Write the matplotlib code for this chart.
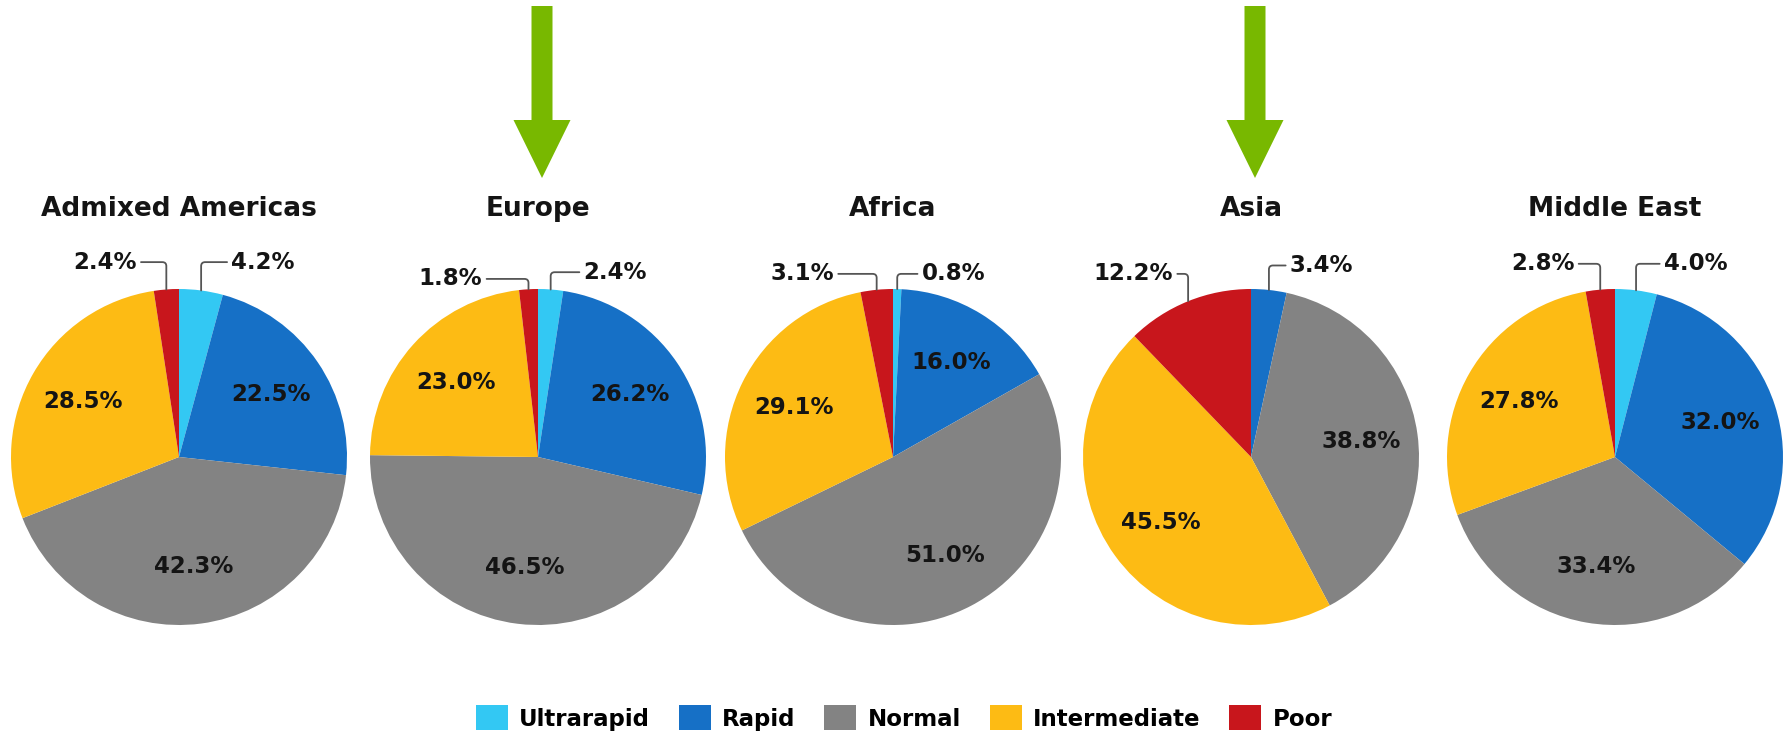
import matplotlib
matplotlib.use("Agg")
import numpy as np
import matplotlib.pyplot as plt
from matplotlib.patches import Patch, FancyArrow
from matplotlib.font_manager import FontProperties

# ---- data -------------------------------------------------------------
regions = ["Admixed Americas", "Europe", "Africa", "Asia", "Middle East"]
phenotypes = ["Ultrarapid", "Rapid", "Normal", "Intermediate", "Poor"]

admixed_americas = [4.2, 22.5, 42.3, 28.5, 2.4]
europe = [2.4, 26.2, 46.5, 23.0, 1.8]
africa = [0.8, 16.0, 51.0, 29.1, 3.1]
asia = [0.0, 3.4, 38.8, 45.5, 12.2]
middle_east = [4.0, 32.0, 33.4, 27.8, 2.8]

highlighted = ["Europe", "Asia"]

# ---- style ------------------------------------------------------------
colors = ["#33C8F3", "#1670C6", "#838383", "#FDBB14", "#C8161C"]
arrow_green = "#78B800"
text_dark = "#141414"

W, H, DPI = 1788, 737, 100
centers_x = [179, 538, 893, 1251, 1615]
center_y = 457
radius_px = 168
title_y = 209
pct_distance = 0.66

# callout text placement (in pie-radius units) for slices labelled outside
callout_pos = {
    "Admixed Americas": {4: (-0.44, 1.16), 0: (0.50, 1.16)},
    "Europe": {4: (-0.52, 1.06), 0: (0.46, 1.10)},
    "Africa": {4: (-0.54, 1.09), 0: (0.36, 1.09)},
    "Asia": {4: (-0.70, 1.09), 1: (0.42, 1.14)},
    "Middle East": {4: (-0.43, 1.15), 0: (0.48, 1.15)},
}

values_by_region = {
    "Admixed Americas": admixed_americas,
    "Europe": europe,
    "Africa": africa,
    "Asia": asia,
    "Middle East": middle_east,
}

fig = plt.figure(figsize=(W / DPI, H / DPI), dpi=DPI, facecolor="white")

# overlay in pixel coordinates for the highlight arrows
overlay = fig.add_axes([0, 0, 1, 1])
overlay.set_xlim(0, W)
overlay.set_ylim(H, 0)
overlay.axis("off")

for region, cx in zip(regions, centers_x):
    vals = values_by_region[region]
    ax = fig.add_axes([(cx - radius_px) / W, 1 - (center_y + radius_px) / H,
                       2 * radius_px / W, 2 * radius_px / H])
    wedges, _ = ax.pie(vals, colors=colors, startangle=90, counterclock=False,
                       radius=1.0, wedgeprops=dict(linewidth=0))
    ax.set_xlim(-1, 1)
    ax.set_ylim(-1, 1)
    ax.set_aspect("equal")
    ax.axis("off")

    for i, (w, v) in enumerate(zip(wedges, vals)):
        if v <= 0:
            continue
        mid = np.deg2rad((w.theta1 + w.theta2) / 2)
        ux, uy = np.cos(mid), np.sin(mid)
        label = f"{v:.1f}%"
        if i in callout_pos[region]:
            tx, ty = callout_pos[region][i]
            ax.annotate(label, xy=(ux, uy), xytext=(tx, ty),
                        ha="center", va="center", fontsize=16.5,
                        fontweight="bold", color=text_dark,
                        annotation_clip=False,
                        arrowprops=dict(arrowstyle="-", color="#555555", lw=1.3,
                                        shrinkA=1, shrinkB=0,
                                        connectionstyle="angle,angleA=0,angleB=90,rad=4"))
        else:
            ax.text(pct_distance * ux, pct_distance * uy, label,
                    ha="center", va="center", fontsize=16.5,
                    fontweight="bold", color=text_dark)

    fig.text(cx / W, 1 - title_y / H, region, ha="center", va="center",
             fontsize=19, fontweight="bold", color=text_dark)

    if region in highlighted:
        overlay.add_patch(FancyArrow(cx + 4, 6, 0, 172, width=21, head_width=57,
                                     head_length=58, length_includes_head=True,
                                     color=arrow_green, linewidth=0))

handles = [Patch(facecolor=c, edgecolor="none") for c in colors]
fig.legend(handles, phenotypes, loc="center", bbox_to_anchor=(0.5056, 1 - 718 / H),
           ncol=5, frameon=False,
           prop=FontProperties(family="DejaVu Sans", weight="bold", size=16.5),
           handlelength=1.4, handleheight=1.3, handletextpad=0.5,
           columnspacing=1.25)

fig.savefig("out.png", dpi=DPI, facecolor="white")
